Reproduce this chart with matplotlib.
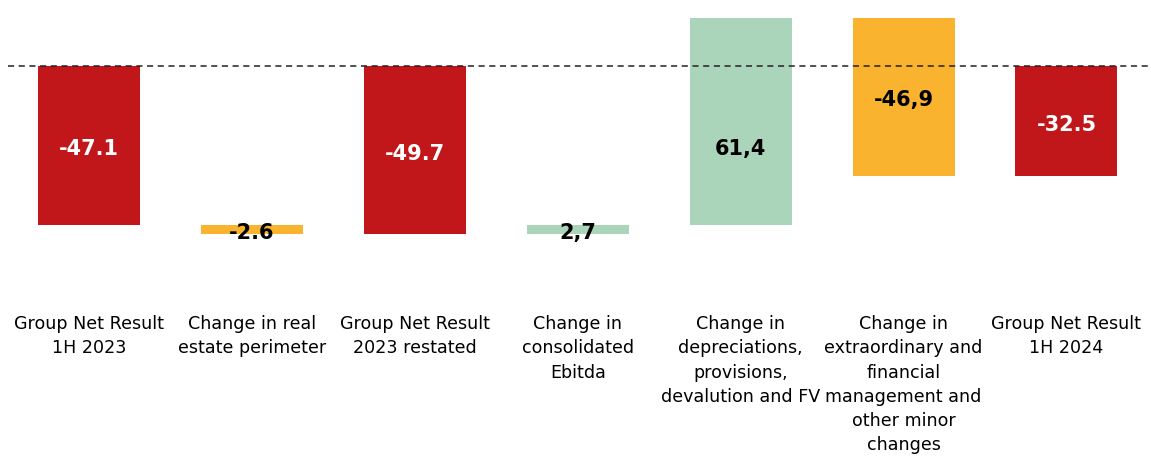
import matplotlib.pyplot as plt

# Waterfall data (EUR m)
categories = [
    "Group Net Result\n1H 2023",
    "Change in real\nestate perimeter",
    "Group Net Result\n2023 restated",
    "Change in\nconsolidated\nEbitda",
    "Change in\ndepreciations,\nprovisions,\ndevalution and FV",
    "Change in\nextraordinary and\nfinancial\nmanagement and\nother minor\nchanges",
    "Group Net Result\n1H 2024",
]
values = [-47.1, -2.6, -49.7, 2.7, 61.4, -46.9, -32.5]
kinds = ["total", "delta", "total", "delta", "delta", "delta", "total"]
value_labels = ["-47.1", "-2.6", "-49.7", "2,7", "61,4", "-46,9", "-32.5"]

RED = "#C1171A"
ORANGE = "#F9B32F"
GREEN = "#ABD5BB"

# compute bar bottoms / heights for the waterfall
bottoms, heights, colors = [], [], []
running = 0.0
for v, k in zip(values, kinds):
    if k == "total":
        bottoms.append(0.0)
        heights.append(v)
        running = v
        colors.append(RED)
    else:
        bottoms.append(running)
        heights.append(v)
        running += v
        colors.append(GREEN if v > 0 else ORANGE)

fig = plt.figure(figsize=(11.51, 4.57), dpi=100)
ax = fig.add_axes([8 / 1151, 0, 1143 / 1151, 1])

x = list(range(len(values)))
ax.bar(x, heights, bottom=bottoms, width=0.626, color=colors, zorder=1)
ax.axhline(0, color="#222222", lw=1.1, ls=(0, (4, 3)), zorder=2)

for i, (b, h, lab) in enumerate(zip(bottoms, heights, value_labels)):
    y = b + h / 2 - 1
    if kinds[i] == "delta" and h > 5:
        # big positive step: label sits in the part below zero
        y = b / 2 - 1
    txt_color = "white" if colors[i] == RED else "black"
    ax.text(i, y, lab, ha="center", va="center", fontsize=15,
            fontweight="bold", color=txt_color, zorder=3)

for i, cat in enumerate(categories):
    ax.text(i, -73.6, cat, ha="center", va="top", fontsize=12.6,
            linespacing=1.45, color="black")

ax.set_xlim(-0.497, 6.519)
ax.set_ylim(-115.7, 19.7)
ax.axis("off")

fig.savefig("out.png", dpi=100)
